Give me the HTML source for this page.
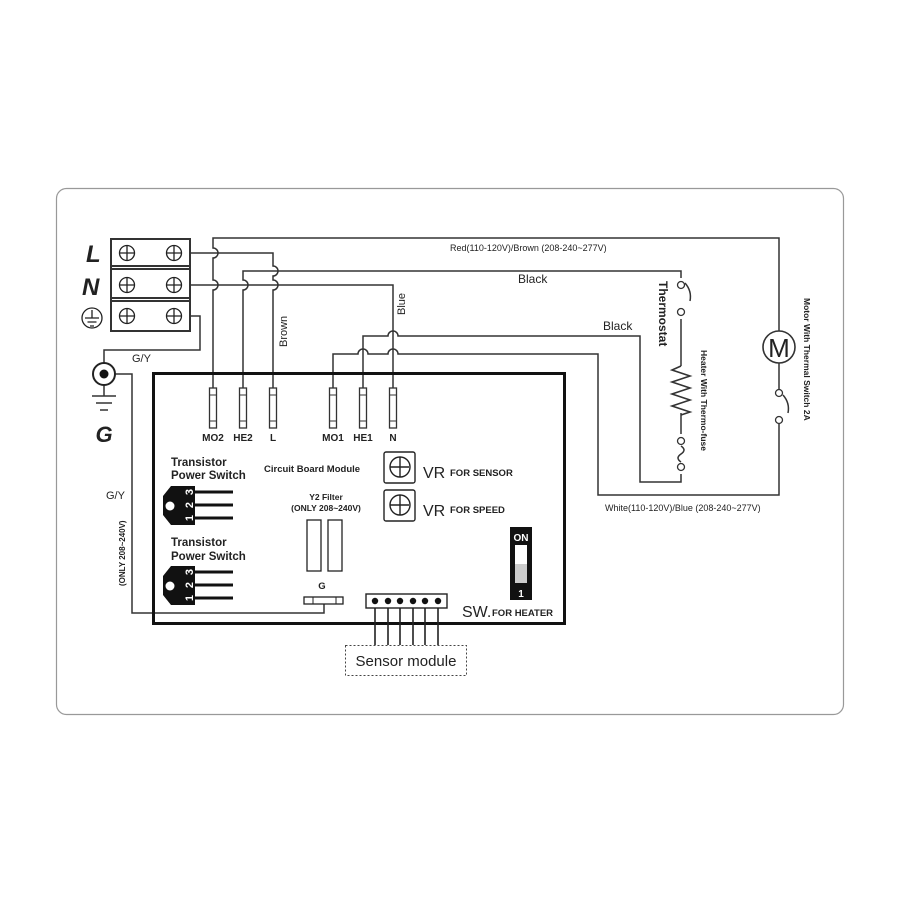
<!DOCTYPE html>
<html><head><meta charset="utf-8"><style>body{margin:0;background:#fff}svg{display:block}text{font-family:"Liberation Sans",Arial,sans-serif;fill:#222}text.w{fill:#fff}</style></head><body>
<svg width="900" height="900" viewBox="0 0 900 900" xmlns="http://www.w3.org/2000/svg">
<rect x="56.5" y="188.5" width="787" height="526" rx="10" fill="none" stroke="#999" stroke-width="1.2"/>
<g fill="none" stroke="#333" stroke-width="1.6">
<rect x="111" y="239" width="79" height="92" stroke-width="2"/>
<line x1="111" y1="266" x2="190" y2="266" stroke-width="2"/><line x1="111" y1="269" x2="190" y2="269" stroke-width="2"/>
<line x1="111" y1="298" x2="190" y2="298" stroke-width="2"/><line x1="111" y1="301" x2="190" y2="301" stroke-width="2"/>
</g>
<g fill="none" stroke="#222" stroke-width="1.3">
<circle cx="127" cy="253" r="7.5"/><circle cx="174" cy="253" r="7.5"/>
<circle cx="127" cy="285" r="7.5"/><circle cx="174" cy="285" r="7.5"/>
<circle cx="127" cy="316" r="7.5"/><circle cx="174" cy="316" r="7.5"/>
<path d="M119.5 253h15M127 245.5v15M166.5 253h15M174 245.5v15M119.5 285h15M127 277.5v15M166.5 285h15M174 277.5v15M119.5 316h15M127 308.5v15M166.5 316h15M174 308.5v15"/>
<circle cx="92" cy="318" r="10"/><path d="M92 310v8M85 318h14M87.5 322h9M90 326h4"/>
</g>
<text x="86" y="262" font-size="24" font-weight="bold" font-style="italic" fill="#111">L</text>
<text x="82" y="295" font-size="24" font-weight="bold" font-style="italic" fill="#111">N</text>
<g fill="none" stroke="#333" stroke-width="1.5">
<path d="M213 388V290a5 5 0 0 0 0-10V258a5 5 0 0 0 0-10V238H779V331"/>
<path d="M779 363V390M779 424V495H598V354H398a5 5 0 0 0-10 0H368a5 5 0 0 0-10 0H333V388"/>
<path d="M190 253H273V266a5 5 0 0 1 0 10V280a5 5 0 0 1 0 10V388"/>
<path d="M190 285H393V388"/>
<path d="M243 388V290a5 5 0 0 0 0-10V271H681V278M681 319V366"/>
<path d="M681 413V434M681 474V482H640V336H398a5 5 0 0 0-10 0H363V388"/>
<path d="M190 316H200V350H104V363"/>
<path d="M115 374H132V613H324V604"/>
<path d="M104 385V396M92 396h24M96 403h16M100 410h8"/>
<path d="M681 366l-9 4 18 6-18 6 18 6-18 6 18 6-18 6 18 6-9 3" stroke-width="1.6"/>
<path d="M681 446q6 4 0 8q-6 4 0 8"/>
<path d="M685 283q7 8 5 18"/><path d="M783 395q7 8 5 18"/>
</g>
<g fill="#fff" stroke="#333" stroke-width="1.3">
<circle cx="681" cy="285" r="3.5"/><circle cx="681" cy="312" r="3.5"/>
<circle cx="681" cy="441" r="3.5"/><circle cx="681" cy="467" r="3.5"/>
<circle cx="779" cy="393" r="3.5"/><circle cx="779" cy="420" r="3.5"/>
<circle cx="779" cy="347" r="16" stroke-width="1.6"/>
</g>
<text x="779" y="357" font-size="26" text-anchor="middle" fill="#111">M</text>
<circle cx="104" cy="374" r="11" fill="#fff" stroke="#222" stroke-width="2"/><circle cx="104" cy="374" r="4.5" fill="#111"/>
<text x="104" y="442" font-size="22" font-weight="bold" font-style="italic" fill="#111" text-anchor="middle">G</text>
<text x="132" y="362" font-size="11">G/Y</text>
<text x="106" y="499" font-size="11">G/Y</text>
<text transform="translate(125,586) rotate(-90)" font-size="8" font-weight="bold">(ONLY 208~240V)</text>
<text transform="translate(287,347) rotate(-90)" font-size="11">Brown</text>
<text transform="translate(405,315) rotate(-90)" font-size="11">Blue</text>
<text x="450" y="251" font-size="9">Red(110-120V)/Brown (208-240~277V)</text>
<text x="518" y="283" font-size="12">Black</text>
<text x="603" y="330" font-size="12">Black</text>
<text x="605" y="511" font-size="9">White(110-120V)/Blue (208-240~277V)</text>
<text transform="translate(659,281) rotate(90)" font-size="12" font-weight="bold">Thermostat</text>
<text transform="translate(701,350) rotate(90)" font-size="8.5" font-weight="bold">Heater With Thermo-fuse</text>
<text transform="translate(804,298) rotate(90)" font-size="8.5" font-weight="bold">Motor With Thermal Switch 2A</text>
<rect x="153.5" y="373.5" width="411" height="250" fill="none" stroke="#111" stroke-width="3"/>
<g fill="#fff" stroke="#333" stroke-width="1.3">
<rect x="209.5" y="388" width="7" height="40"/><rect x="239.5" y="388" width="7" height="40"/><rect x="269.5" y="388" width="7" height="40"/>
<rect x="329.5" y="388" width="7" height="40"/><rect x="359.5" y="388" width="7" height="40"/><rect x="389.5" y="388" width="7" height="40"/>
</g>
<g stroke="#333" stroke-width="1"><path d="M210 395h6M210 421h6M240 395h6M240 421h6M270 395h6M270 421h6M330 395h6M330 421h6M360 395h6M360 421h6M390 395h6M390 421h6"/></g>
<g font-size="10" font-weight="bold" text-anchor="middle" fill="#111">
<text x="213" y="441">MO2</text><text x="243" y="441">HE2</text><text x="273" y="441">L</text>
<text x="333" y="441">MO1</text><text x="363" y="441">HE1</text><text x="393" y="441">N</text>
</g>
<g font-size="11.5" font-weight="bold" fill="#111">
<text x="171" y="466">Transistor</text><text x="171" y="479">Power Switch</text>
<text x="171" y="546">Transistor</text><text x="171" y="560">Power Switch</text>
</g>
<g>
<path d="M171 486H195V525H171L163 515V496Z" fill="#111"/><circle cx="170" cy="506" r="4.5" fill="#fff"/>
<path d="M195 492H233M195 505H233M195 518H233" stroke="#111" stroke-width="3"/>
<g font-size="11" font-weight="bold" text-anchor="middle">
<text class="w" transform="translate(193,518) rotate(-90)">1</text><text class="w" transform="translate(193,505) rotate(-90)">2</text><text class="w" transform="translate(193,492) rotate(-90)">3</text>
</g>
<path d="M171 566H195V605H171L163 595V576Z" fill="#111"/><circle cx="170" cy="586" r="4.5" fill="#fff"/>
<path d="M195 572H233M195 585H233M195 598H233" stroke="#111" stroke-width="3"/>
<g font-size="11" font-weight="bold" text-anchor="middle">
<text class="w" transform="translate(193,598) rotate(-90)">1</text><text class="w" transform="translate(193,585) rotate(-90)">2</text><text class="w" transform="translate(193,572) rotate(-90)">3</text>
</g>
</g>
<text x="264" y="472" font-size="9.5" font-weight="bold">Circuit Board Module</text>
<g fill="none" stroke="#222" stroke-width="1.4">
<rect x="384" y="452" width="31" height="31" rx="2"/><rect x="384" y="490" width="31" height="31" rx="2"/>
<circle cx="400" cy="467" r="10"/><circle cx="400" cy="505" r="10"/>
<path d="M390 467h19M400 457v20M390 505h19M400 495v20"/>
</g>
<text x="423" y="478" font-size="16">VR</text><text x="450" y="476" font-size="9.5" font-weight="bold">FOR SENSOR</text>
<text x="423" y="516" font-size="16">VR</text><text x="450" y="513" font-size="9.5" font-weight="bold">FOR SPEED</text>
<text x="326" y="500" font-size="8.5" font-weight="bold" text-anchor="middle">Y2 Filter</text>
<text x="326" y="511" font-size="8.5" font-weight="bold" text-anchor="middle">(ONLY 208~240V)</text>
<rect x="307" y="520" width="14" height="51" fill="none" stroke="#222" stroke-width="1.3"/>
<rect x="328" y="520" width="14" height="51" fill="none" stroke="#222" stroke-width="1.3"/>
<text x="322" y="589" font-size="9.5" font-weight="bold" text-anchor="middle">G</text>
<rect x="304" y="597" width="39" height="7" fill="#fff" stroke="#222" stroke-width="1.3"/>
<path d="M313 597v7M336 597v7" stroke="#222"/>
<rect x="366" y="594" width="81" height="14" fill="#fff" stroke="#222" stroke-width="1.4"/>
<g fill="#111"><circle cx="375" cy="601" r="3.2"/><circle cx="388" cy="601" r="3.2"/><circle cx="400" cy="601" r="3.2"/><circle cx="413" cy="601" r="3.2"/><circle cx="425" cy="601" r="3.2"/><circle cx="438" cy="601" r="3.2"/></g>
<path d="M375 608v37M388 608v37M400 608v37M413 608v37M425 608v37M438 608v37" stroke="#222" stroke-width="1.6"/>
<rect x="345.5" y="645.5" width="121" height="30" fill="#fff" stroke="#444" stroke-dasharray="2,2"/>
<text x="406" y="666" font-size="15" text-anchor="middle">Sensor module</text>
<rect x="510" y="527" width="22" height="73" fill="#111"/>
<text class="w" x="521" y="541" font-size="10" font-weight="bold" text-anchor="middle">ON</text>
<rect x="515" y="545" width="12" height="19" fill="#fff"/><rect x="515" y="564" width="12" height="19" fill="#ccc"/>
<text class="w" x="521" y="597" font-size="10" font-weight="bold" text-anchor="middle">1</text>
<text x="462" y="617" font-size="16">SW.</text><text x="492" y="616" font-size="9.5" font-weight="bold">FOR HEATER</text>
</svg>
</body></html>
